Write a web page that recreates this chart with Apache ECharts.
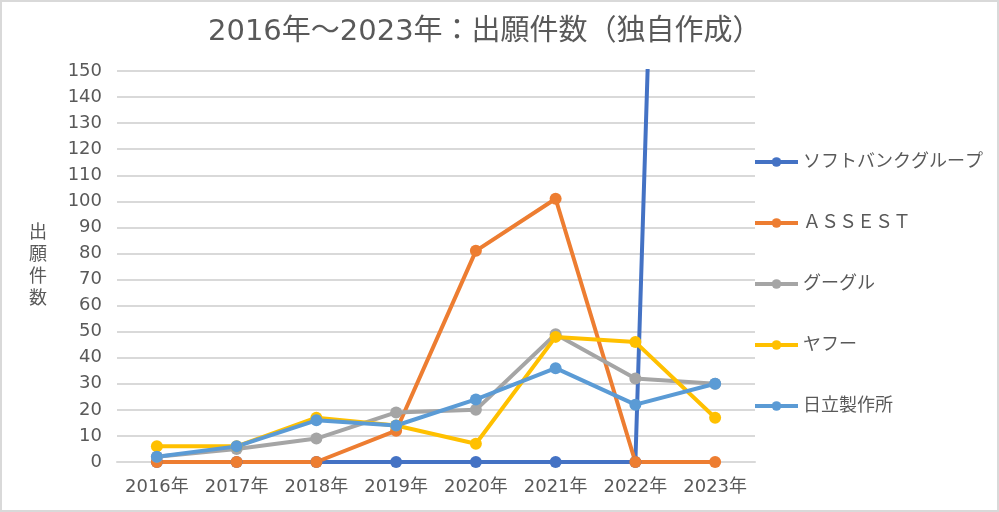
<!DOCTYPE html>
<html>
<head>
<meta charset="utf-8">
<script src="https://cdn.jsdelivr.net/npm/echarts@6/dist/echarts.min.js"></script>
<style>
html,body{margin:0;padding:0;background:#fff;}
#wrap{position:relative;width:999px;height:512px;}
#c{width:999px;height:512px;}
#frame{position:absolute;left:0;top:0;width:999px;height:512px;box-sizing:border-box;border:2px solid #d9d9d9;pointer-events:none;}
</style>
</head>
<body>
<div id="wrap"><div id="c"></div><div id="frame"></div></div>
<script>
const categories = ['2016年','2017年','2018年','2019年','2020年','2021年','2022年','2023年'];
const softbank = [0,0,0,0,0,0,0,980];
const assest = [0,0,0,12,81,101,0,0];
const google = [2,5,9,19,20,49,32,30];
const yahoo = [6,6,17,14,7,48,46,17];
const hitachi = [2,6,16,14,24,36,22,30];
const seriesNames = ['ソフトバンクグループ','ＡＳＳＥＳＴ','グーグル','ヤフー','日立製作所'];
const seriesColors = ['#4472C4','#ED7D31','#A5A5A5','#FFC000','#5B9BD5'];
const seriesData = [softbank, assest, google, yahoo, hitachi];

const font = '"DejaVu Sans", "Noto Sans CJK JP", sans-serif';
const chart = echarts.init(document.getElementById('c'));
chart.setOption({
  animation:false,
  textStyle:{fontFamily:font},
  title:{
    text:'2016年～2023年：出願件数（独自作成）',
    left:203, top:13,
    textStyle:{fontSize:29,fontWeight:'normal',color:'#595959',fontFamily:font}
  },
  grid:{left:117,right:244,top:71,bottom:50},
  legend:{
    orient:'vertical',
    left:753, top:153, padding:0,
    itemWidth:43, itemHeight:12,
    itemGap:43,
    lineStyle:{width:4},
    textStyle:{fontSize:18,color:'#595959',fontFamily:font},
    data:seriesNames
  },
  xAxis:{
    type:'category',
    data:categories,
    boundaryGap:true,
    axisLine:{lineStyle:{color:'#d9d9d9',width:2}},
    axisTick:{show:false},
    axisLabel:{fontSize:18,color:'#595959',margin:16,interval:0,fontFamily:font}
  },
  yAxis:{
    type:'value',
    min:0,max:150,interval:10,
    name:'出\n願\n件\n数',
    nameLocation:'middle',
    nameRotate:0,
    nameGap:70,
    nameTextStyle:{fontSize:18,color:'#595959',lineHeight:22,fontFamily:font},
    axisLine:{show:false},
    axisTick:{show:false},
    splitLine:{lineStyle:{color:'#d9d9d9',width:2}},
    axisLabel:{fontSize:18,color:'#595959',margin:15,fontFamily:font}
  },
  series: seriesNames.map((n,i)=>({
    name:n,
    type:'line',
    data:seriesData[i],
    symbol:'circle',
    symbolSize:12,
    clip:true,
    lineStyle:{width:4,color:seriesColors[i]},
    itemStyle:{color:seriesColors[i]}
  }))
});
</script>
</body>
</html>
